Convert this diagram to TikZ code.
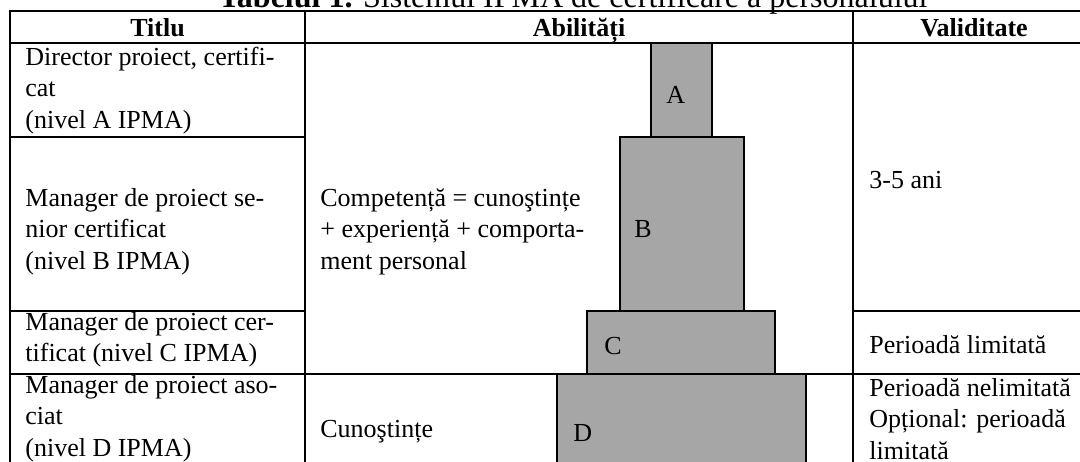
\documentclass[tikz,border=0pt]{standalone}
\usepackage{fontspec}
\setmainfont{Liberation Serif}
\definecolor{boxgray}{RGB}{166,166,166}
\begin{document}
\begin{tikzpicture}[x=0.5pt,y=-0.5pt,
  grid/.style={line width=1pt, line cap=rect},
  lvl/.style={draw=black, line width=1pt, fill=boxgray},
  txt/.style={anchor=base west, inner sep=0pt, font=\fontsize{13}{15.75}\selectfont, align=left},
  hdr/.style={anchor=base, inner sep=0pt, font=\fontsize{13}{15.75}\selectfont\bfseries},
]
\useasboundingbox (0,0) rectangle (1080,461);
\clip (0,0) rectangle (1080,461);
% title
\node[anchor=base, inner sep=0pt, font=\fontsize{16}{19}\selectfont] (title) at (573,7) {\textbf{Tabelul 1.} Sistemul IPMA de certificare a personalului};
% pyramid boxes
\draw[lvl] (557,374) rectangle (806,490);
\draw[lvl] (587,311) rectangle (775,374);
\draw[lvl] (620,137) rectangle (744,311);
\draw[lvl] (651,43) rectangle (712,137);
% grid
\draw[grid] (10,11) -- (1100,11);
\draw[grid] (10,43) -- (1100,43);
\draw[grid] (10,11) -- (10,490);
\draw[grid] (305,11) -- (305,490);
\draw[grid] (853,11) -- (853,490);
\draw[grid] (10,137) -- (305,137);
\draw[grid] (10,311) -- (305,311);
\draw[grid] (853,311) -- (1100,311);
\draw[grid] (10,374) -- (1100,374);
% headers
\node[hdr] (h1) at (157.5,36) {Titlu};
\node[hdr] (h2) at (579,36) {Abilități};
\node[hdr] (h3) at (974,36) {Validitate};
% left column (anchor = baseline of last line)
\node[txt] (t1) at (25,128) {Director proiect, certifi-\\cat\\(nivel A IPMA)};
\node[txt] (t2) at (25,269) {Manager de proiect se-\\nior certificat\\(nivel B IPMA)};
\node[txt] (t3) at (25,361.5) {Manager de proiect cer-\\tificat (nivel C IPMA)};
\node[txt] (t4) at (25,456) {Manager de proiect aso-\\ciat\\(nivel D IPMA)};
% middle column
\node[txt] (m1) at (320,269) {Competență = cunoştințe\\+ experiență + comporta-\\ment personal};
\node[txt] (m2) at (320,437) {Cunoştințe};
\node[txt] (la) at (666,103) {A};
\node[txt] (lb) at (634,237) {B};
\node[txt] (lc) at (604,354) {C};
\node[txt] (ld) at (573,441) {D};
% right column
\node[txt] (v1) at (869,188) {3-5 ani};
\node[txt] (v2) at (869,353) {Perioadă limitată};
\node[txt] (v3) at (869,459) {Perioadă nelimitată\\Opțional: perioadă\\limitată};
\end{tikzpicture}
\end{document}
